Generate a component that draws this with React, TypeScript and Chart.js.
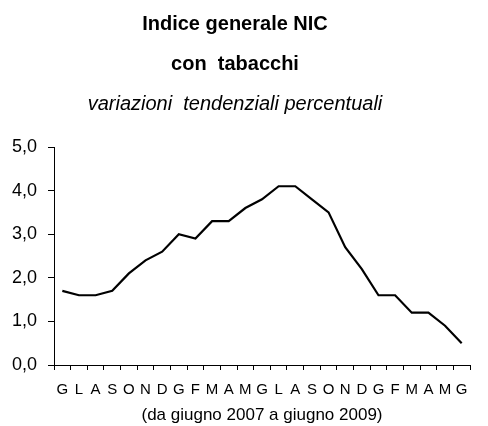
import React, { useEffect, useRef } from "react";
import { Chart, registerables } from "chart.js";

Chart.register(...registerables);

const months = ["G", "L", "A", "S", "O", "N", "D", "G", "F", "M", "A", "M", "G", "L", "A", "S", "O", "N", "D", "G", "F", "M", "A", "M", "G"];
const values = [1.7, 1.6, 1.6, 1.7, 2.1, 2.4, 2.6, 3.0, 2.9, 3.3, 3.3, 3.6, 3.8, 4.1, 4.1, 3.8, 3.5, 2.7, 2.2, 1.6, 1.6, 1.2, 1.2, 0.9, 0.5];
const titleLines = ["Indice generale NIC", "con  tabacchi"];
const subtitleText = "variazioni  tendenziali percentuali";
const xTitle = "(da giugno 2007 a giugno 2009)";

const SANS = '"Liberation Sans", Arial, sans-serif';

export default function App() {
  const ref = useRef<HTMLCanvasElement | null>(null);
  useEffect(() => {
    document.body.style.margin = "0";
    const ctx = ref.current!;
    const chart = new Chart(ctx, {
      type: "line",
      data: {
        labels: months,
        datasets: [
          {
            data: values,
            borderColor: "#000",
            borderWidth: 2.2,
            pointRadius: 0,
            tension: 0,
            fill: false,
          },
        ],
      },
      options: {
        animation: false,
        responsive: false,
        maintainAspectRatio: false,
        layout: { padding: { left: 0, right: 18, top: 0, bottom: 0 } },
        plugins: {
          legend: { display: false },
          tooltip: { enabled: false },
          title: {
            display: true,
            text: titleLines,
            color: "#000",
            font: { family: SANS, size: 20, weight: "bold", lineHeight: 2 },
            padding: { top: 4, bottom: 0 },
          },
          subtitle: {
            display: true,
            text: subtitleText,
            color: "#000",
            font: { family: SANS, size: 20, style: "italic", lineHeight: 2 },
            padding: { top: 0, bottom: 23 },
          },
        },
        scales: {
          x: {
            type: "category",
            offset: true,
            grid: { display: true, offset: true, drawOnChartArea: false, drawTicks: true, tickLength: 5, color: "#000", lineWidth: 1 },
            border: { display: true, color: "#000", width: 1 },
            ticks: { color: "#000", font: { family: SANS, size: 15 }, padding: 11, maxRotation: 0, autoSkip: false },
            title: { display: true, text: xTitle, color: "#000", font: { family: SANS, size: 17 }, padding: { top: 6, bottom: 0 } },
            afterFit: (scale: any) => {
              scale.height = 61;
            },
          },
          y: {
            min: 0,
            max: 5,
            grid: { display: true, drawOnChartArea: false, drawTicks: true, tickLength: 6, color: "#000", lineWidth: 1 },
            border: { display: true, color: "#000", width: 1 },
            ticks: {
              stepSize: 1,
              color: "#000",
              font: { family: SANS, size: 18 },
              padding: 11,
              callback: (v: any) => Number(v).toFixed(1).replace(".", ","),
            },
            afterFit: (scale: any) => {
              scale.width = 54;
            },
          },
        },
      },
    });
    return () => chart.destroy();
  }, []);
  return <canvas ref={ref} width={488} height={426} style={{ display: "block" }} />;
}
